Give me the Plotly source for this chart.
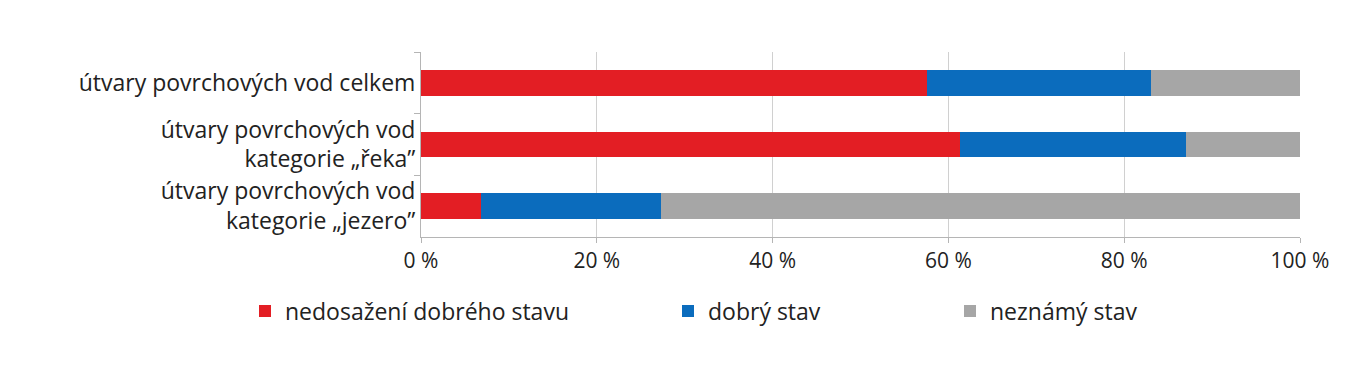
import plotly.graph_objects as go

categories = [
    "útvary povrchových vod celkem",
    "útvary povrchových vod<br>kategorie „řeka”",
    "útvary povrchových vod<br>kategorie „jezero”",
]
series_names = ["nedosažení dobrého stavu", "dobrý stav", "neznámý stav"]
red_vals = [57.6, 61.3, 6.8]
blue_vals = [25.4, 25.7, 20.5]
gray_vals = [17.0, 13.0, 72.7]
colors = ["#e31e24", "#0b6cbd", "#a6a6a6"]
x_tick_vals = [0, 20, 40, 60, 80, 100]
x_tick_text = ["0 %", "20 %", "40 %", "60 %", "80 %", "100 %"]

fig = go.Figure()
legends = ["legend", "legend2", "legend3"]
for name, vals, col, lg in zip(series_names, [red_vals, blue_vals, gray_vals], colors, legends):
    fig.add_trace(go.Bar(
        y=categories, x=vals, name=name, orientation="h",
        marker=dict(color=col, line=dict(width=0)), legend=lg,
    ))

legend_font = dict(family="Open Sans, sans-serif", size=23, color="#222")
leg_common = dict(orientation="h", yanchor="middle", y=-0.40, xref="paper",
                  font=legend_font, bgcolor="rgba(0,0,0,0)", itemwidth=30)

PW = 879.0
fig.update_layout(
    width=1346, height=372,
    margin=dict(l=413, r=54, t=44, b=143, autoexpand=False),
    barmode="stack", bargap=0.58,
    plot_bgcolor="white", paper_bgcolor="white",
    font=dict(family="Open Sans, sans-serif", size=23, color="#222"),
    legend=dict(**leg_common, x=-176 / PW, xanchor="left"),
    legend2=dict(**leg_common, x=247 / PW, xanchor="left"),
    legend3=dict(**leg_common, x=529 / PW, xanchor="left"),
    showlegend=True,
)
fig.update_yaxes(
    autorange="reversed", showline=True, linecolor="#b5b5b5", linewidth=1,
    ticks="outside", tickson="boundaries", ticklen=6, tickcolor="#b5b5b5",
    showgrid=False, automargin=False,
    tickfont=dict(family="Open Sans, sans-serif", size=23, color="#222"),
)
fig.update_xaxes(
    range=[0, 100], tickvals=x_tick_vals, ticktext=x_tick_text,
    showline=True, linecolor="#b5b5b5", linewidth=1,
    ticks="outside", ticklen=5, tickcolor="#b5b5b5",
    showgrid=True, gridcolor="#d0d0d0", gridwidth=1, zeroline=False, automargin=False,
    tickfont=dict(family="Liberation Sans Narrow, Open Sans, sans-serif", size=21, color="#222"),
)

fig.write_html("out.html")
